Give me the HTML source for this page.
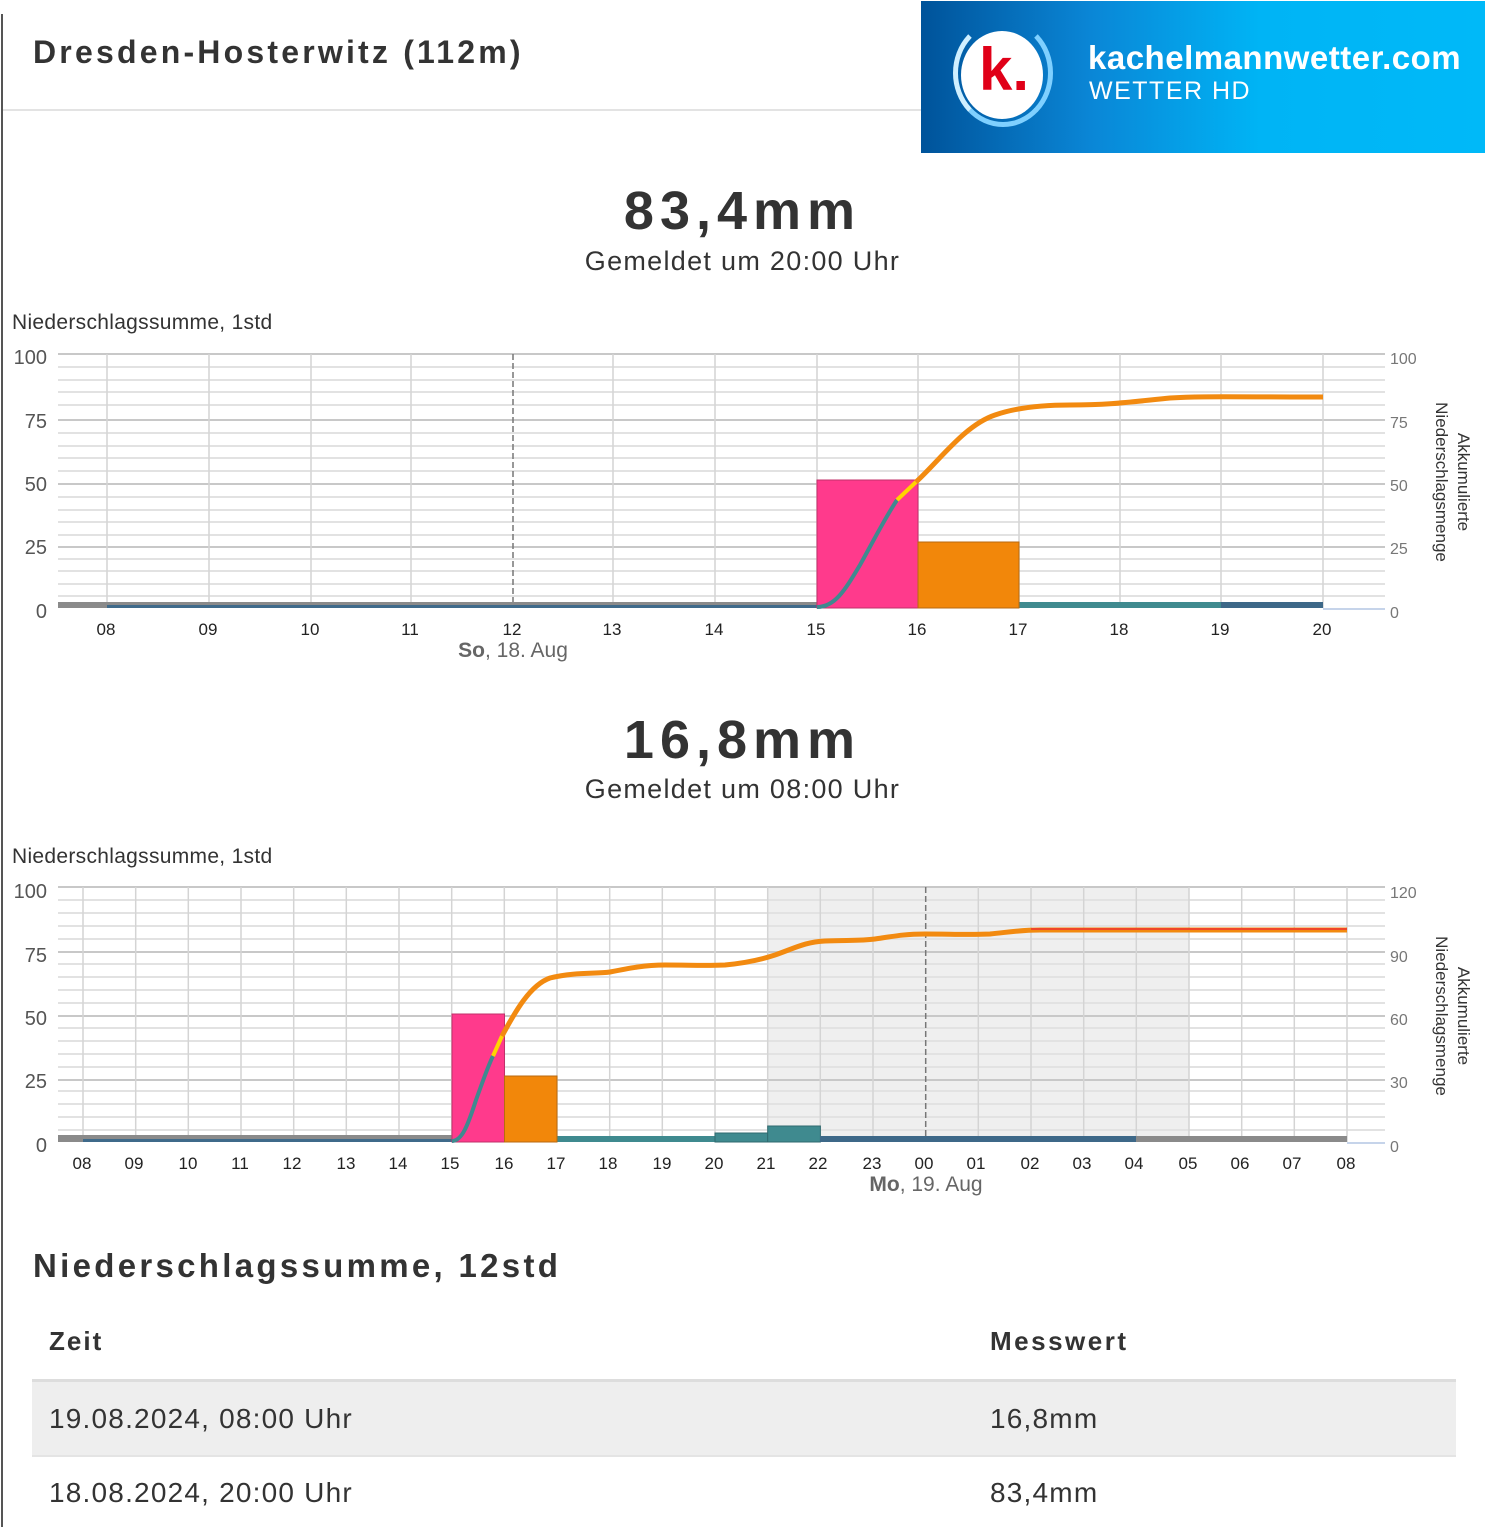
<!DOCTYPE html>
<html><head><meta charset="utf-8"><style>
body{margin:0;width:1485px;height:1527px;background:#fff;overflow:hidden;font-family:"Liberation Sans",sans-serif;position:relative}
.t{position:absolute;white-space:nowrap}
</style></head><body>
<div style="position:absolute;left:1px;top:14px;width:2px;height:1513px;background:#555"></div>
<div class="t" style="left:33px;top:34px;font-size:32px;font-weight:bold;color:#333;letter-spacing:3.2px">Dresden-Hosterwitz (112m)</div>
<div style="position:absolute;left:3px;top:109px;width:918px;height:2px;background:#e3e3e3"></div>
<div style="position:absolute;left:921px;top:1px;width:564px;height:152px;background:linear-gradient(90deg,#00539a 0%,#0a86d6 30%,#00b4f5 60%,#00b9f8 100%)">
<div style="position:absolute;left:32px;top:18px;width:100px;height:108px;border-radius:50%;border:5px solid #7fd0ff;border-left-color:#cfefff;border-top-color:transparent;box-sizing:border-box"></div>
<div style="position:absolute;left:40px;top:30px;width:82px;height:88px;border-radius:50%;background:#fff"></div>
<div class="t" style="left:58px;top:34px;font-size:60px;font-weight:bold;color:#e00018">k.</div>
<div class="t" style="left:167px;top:38px;font-size:33px;font-weight:bold;color:#fff;letter-spacing:0.5px">kachelmannwetter.com</div>
<div class="t" style="left:168px;top:76px;font-size:25px;color:#fff;letter-spacing:1.5px">WETTER HD</div>
</div>

<div class="t" style="left:0;width:1485px;text-align:center;top:180px;font-size:54px;font-weight:bold;color:#333;letter-spacing:6px">83,4mm</div>
<div class="t" style="left:0;width:1485px;text-align:center;top:246px;font-size:27px;color:#333;letter-spacing:1.3px">Gemeldet um 20:00 Uhr</div>
<div class="t" style="left:12px;top:311px;font-size:21px;color:#333;letter-spacing:0.3px">Niederschlagssumme, 1std</div>

<div class="t" style="left:0;width:1485px;text-align:center;top:709px;font-size:54px;font-weight:bold;color:#333;letter-spacing:6px">16,8mm</div>
<div class="t" style="left:0;width:1485px;text-align:center;top:774px;font-size:27px;color:#333;letter-spacing:1.3px">Gemeldet um 08:00 Uhr</div>
<div class="t" style="left:12px;top:845px;font-size:21px;color:#333;letter-spacing:0.3px">Niederschlagssumme, 1std</div>

<svg style="position:absolute;left:0;top:0" width="1485" height="1230" font-family="Liberation Sans, sans-serif">
<g>
<g stroke="#e2e2e2" stroke-width="2">
<line x1="58" x2="1385" y1="367" y2="367"/><line x1="58" x2="1385" y1="380" y2="380"/><line x1="58" x2="1385" y1="392" y2="392"/><line x1="58" x2="1385" y1="405" y2="405"/>
<line x1="58" x2="1385" y1="433" y2="433"/><line x1="58" x2="1385" y1="446" y2="446"/><line x1="58" x2="1385" y1="458" y2="458"/><line x1="58" x2="1385" y1="471" y2="471"/>
<line x1="58" x2="1385" y1="497" y2="497"/><line x1="58" x2="1385" y1="510" y2="510"/><line x1="58" x2="1385" y1="522" y2="522"/><line x1="58" x2="1385" y1="535" y2="535"/>
<line x1="58" x2="1385" y1="559" y2="559"/><line x1="58" x2="1385" y1="571" y2="571"/><line x1="58" x2="1385" y1="584" y2="584"/><line x1="58" x2="1385" y1="596" y2="596"/>
</g>
<g stroke="#c8c8c8" stroke-width="2">
<line x1="58" x2="1385" y1="354" y2="354"/><line x1="58" x2="1385" y1="420" y2="420"/><line x1="58" x2="1385" y1="484" y2="484"/><line x1="58" x2="1385" y1="547" y2="547"/>
</g>
<g stroke="#d4d4d4" stroke-width="1.5">
<line x1="107" x2="107" y1="354" y2="608"/><line x1="209" x2="209" y1="354" y2="608"/><line x1="311" x2="311" y1="354" y2="608"/><line x1="411" x2="411" y1="354" y2="608"/><line x1="613" x2="613" y1="354" y2="608"/><line x1="715" x2="715" y1="354" y2="608"/><line x1="817" x2="817" y1="354" y2="608"/><line x1="918" x2="918" y1="354" y2="608"/><line x1="1019" x2="1019" y1="354" y2="608"/><line x1="1120" x2="1120" y1="354" y2="608"/><line x1="1221" x2="1221" y1="354" y2="608"/><line x1="1323" x2="1323" y1="354" y2="608"/>
</g>
<line x1="513" x2="513" y1="354" y2="608" stroke="#777" stroke-width="1.5" stroke-dasharray="6,3"/>
<rect x="58" y="602" width="759" height="6" fill="#8a8a8a"/>
<rect x="107" y="605" width="710" height="3" fill="#3f6a8a"/>
<rect x="1019" y="602" width="202" height="6" fill="#3f8a8f"/>
<rect x="1221" y="602" width="102" height="6" fill="#3d6888"/>
<line x1="1323" x2="1385" y1="609" y2="609" stroke="#c6d4ea" stroke-width="2"/>
<rect x="817" y="480" width="101" height="128" fill="#ff3a8c" stroke="#c0306a"/>
<rect x="918" y="542" width="101" height="66" fill="#f2870a" stroke="#b86a10"/>
<path d="M817,607 C835,607 845,590 860,565 C875,538 885,518 897,500" fill="none" stroke="#3f8a8f" stroke-width="4"/>
<path d="M897,500 L916,482" fill="none" stroke="#ffd400" stroke-width="4"/>
<path d="M916,482 C940,460 965,425 995,415 C1015,408 1040,405 1070,405 C1110,405 1130,402 1170,398 C1200,396 1230,397 1323,397" fill="none" stroke="#f28a10" stroke-width="5"/>
<g font-size="20" fill="#555" text-anchor="end">
<text x="47" y="364">100</text><text x="47" y="428">75</text><text x="47" y="491">50</text><text x="47" y="554">25</text><text x="47" y="618">0</text></g>
<g font-size="16" fill="#777"><text x="1390" y="364">100</text><text x="1390" y="428">75</text><text x="1390" y="491">50</text><text x="1390" y="554">25</text><text x="1390" y="618">0</text></g>
<g font-size="17" fill="#222" text-anchor="middle">
<text x="106" y="635">08</text><text x="208" y="635">09</text><text x="310" y="635">10</text><text x="410" y="635">11</text><text x="512" y="635">12</text><text x="612" y="635">13</text><text x="714" y="635">14</text><text x="816" y="635">15</text><text x="917" y="635">16</text><text x="1018" y="635">17</text><text x="1119" y="635">18</text><text x="1220" y="635">19</text><text x="1322" y="635">20</text></g>
<text x="513" y="657" font-size="21" fill="#666" text-anchor="middle"><tspan font-weight="bold">So</tspan>, 18. Aug</text>
<text transform="translate(1458,482) rotate(90)" font-size="17" fill="#333" text-anchor="middle">Akkumulierte</text>
<text transform="translate(1436,482) rotate(90)" font-size="17" fill="#333" text-anchor="middle">Niederschlagsmenge</text>
</g>
<g>
<rect x="767" y="887" width="422" height="255" fill="#efefef"/>
<g stroke="#e2e2e2" stroke-width="2">
<line x1="58" x2="1385" y1="900" y2="900"/><line x1="58" x2="1385" y1="913" y2="913"/><line x1="58" x2="1385" y1="926" y2="926"/><line x1="58" x2="1385" y1="939" y2="939"/>
<line x1="58" x2="1385" y1="964" y2="964"/><line x1="58" x2="1385" y1="977" y2="977"/><line x1="58" x2="1385" y1="990" y2="990"/><line x1="58" x2="1385" y1="1003" y2="1003"/>
<line x1="58" x2="1385" y1="1028" y2="1028"/><line x1="58" x2="1385" y1="1041" y2="1041"/><line x1="58" x2="1385" y1="1054" y2="1054"/><line x1="58" x2="1385" y1="1067" y2="1067"/>
<line x1="58" x2="1385" y1="1091" y2="1091"/><line x1="58" x2="1385" y1="1104" y2="1104"/><line x1="58" x2="1385" y1="1117" y2="1117"/><line x1="58" x2="1385" y1="1130" y2="1130"/>
</g>
<g stroke="#c8c8c8" stroke-width="2">
<line x1="58" x2="1385" y1="887" y2="887"/><line x1="58" x2="1385" y1="952" y2="952"/><line x1="58" x2="1385" y1="1016" y2="1016"/><line x1="58" x2="1385" y1="1080" y2="1080"/>
</g>
<g stroke="#d4d4d4" stroke-width="1.5">
<line x1="83" x2="83" y1="887" y2="1142"/><line x1="135.7" x2="135.7" y1="887" y2="1142"/><line x1="188.3" x2="188.3" y1="887" y2="1142"/><line x1="241" x2="241" y1="887" y2="1142"/><line x1="293.7" x2="293.7" y1="887" y2="1142"/><line x1="346.3" x2="346.3" y1="887" y2="1142"/><line x1="399" x2="399" y1="887" y2="1142"/><line x1="451.7" x2="451.7" y1="887" y2="1142"/><line x1="504.3" x2="504.3" y1="887" y2="1142"/><line x1="557" x2="557" y1="887" y2="1142"/><line x1="609.7" x2="609.7" y1="887" y2="1142"/><line x1="662.3" x2="662.3" y1="887" y2="1142"/><line x1="715" x2="715" y1="887" y2="1142"/><line x1="767.7" x2="767.7" y1="887" y2="1142"/><line x1="820.3" x2="820.3" y1="887" y2="1142"/><line x1="873" x2="873" y1="887" y2="1142"/><line x1="978.3" x2="978.3" y1="887" y2="1142"/><line x1="1031" x2="1031" y1="887" y2="1142"/><line x1="1083.7" x2="1083.7" y1="887" y2="1142"/><line x1="1136.3" x2="1136.3" y1="887" y2="1142"/><line x1="1189" x2="1189" y1="887" y2="1142"/><line x1="1241.7" x2="1241.7" y1="887" y2="1142"/><line x1="1294.3" x2="1294.3" y1="887" y2="1142"/><line x1="1347" x2="1347" y1="887" y2="1142"/>
</g>
<line x1="925.7" x2="925.7" y1="887" y2="1142" stroke="#777" stroke-width="1.5" stroke-dasharray="6,3"/>
<rect x="58" y="1135" width="394" height="7" fill="#8a8a8a"/>
<rect x="83" y="1139" width="369" height="3" fill="#3f6a8a"/>
<rect x="557" y="1136" width="158" height="6" fill="#3f8a8f"/>
<rect x="715" y="1133" width="52.7" height="9" fill="#3f8a8f" stroke="#2f6a6f"/>
<rect x="767.7" y="1126" width="52.7" height="16" fill="#3f8a8f" stroke="#2f6a6f"/>
<rect x="820" y="1136" width="316" height="6" fill="#3d6888"/>
<rect x="1136" y="1136" width="211" height="6" fill="#8a8a8a"/>
<line x1="1347" x2="1385" y1="1143" y2="1143" stroke="#c6d4ea" stroke-width="2"/>
<rect x="452" y="1014" width="52.5" height="128" fill="#ff3a8c" stroke="#c0306a"/>
<rect x="504.5" y="1076" width="52.5" height="66" fill="#f2870a" stroke="#b86a10"/>
<path d="M452,1141 C462,1141 468,1125 476,1100 C484,1078 488,1066 493,1056" fill="none" stroke="#3f8a8f" stroke-width="4"/>
<path d="M493,1056 L502,1036" fill="none" stroke="#ffd400" stroke-width="4"/>
<path d="M502,1036 C515,1012 530,985 550,978 C575,972 595,974 610,972 C630,968 645,965 665,965 C690,965 705,966 725,965 C745,963 760,960 775,955 C795,948 805,942 825,941 C845,940 860,941 875,939 C895,936 905,934 925,934 C950,934 970,935 990,934 C1010,932 1020,930 1040,930 L1347,930" fill="none" stroke="#f28a10" stroke-width="5"/>
<path d="M1031,929 L1347,929" stroke="#f03030" stroke-width="1.5"/>
<g font-size="20" fill="#555" text-anchor="end">
<text x="47" y="898">100</text><text x="47" y="962">75</text><text x="47" y="1025">50</text><text x="47" y="1088">25</text><text x="47" y="1152">0</text></g>
<g font-size="16" fill="#777"><text x="1390" y="898">120</text><text x="1390" y="962">90</text><text x="1390" y="1025">60</text><text x="1390" y="1088">30</text><text x="1390" y="1152">0</text></g>
<g font-size="17" fill="#222" text-anchor="middle">
<text x="82" y="1169">08</text><text x="134" y="1169">09</text><text x="188" y="1169">10</text><text x="240" y="1169">11</text><text x="292" y="1169">12</text><text x="346" y="1169">13</text><text x="398" y="1169">14</text><text x="450" y="1169">15</text><text x="504" y="1169">16</text><text x="556" y="1169">17</text><text x="608" y="1169">18</text><text x="662" y="1169">19</text><text x="714" y="1169">20</text><text x="766" y="1169">21</text><text x="818" y="1169">22</text><text x="872" y="1169">23</text><text x="924" y="1169">00</text><text x="976" y="1169">01</text><text x="1030" y="1169">02</text><text x="1082" y="1169">03</text><text x="1134" y="1169">04</text><text x="1188" y="1169">05</text><text x="1240" y="1169">06</text><text x="1292" y="1169">07</text><text x="1346" y="1169">08</text></g>
<text x="926" y="1191" font-size="21" fill="#666" text-anchor="middle"><tspan font-weight="bold">Mo</tspan>, 19. Aug</text>
<text transform="translate(1458,1016) rotate(90)" font-size="17" fill="#333" text-anchor="middle">Akkumulierte</text>
<text transform="translate(1436,1016) rotate(90)" font-size="17" fill="#333" text-anchor="middle">Niederschlagsmenge</text>
</g>
</svg>

<div class="t" style="left:33px;top:1247px;font-size:33px;font-weight:bold;color:#333;letter-spacing:3.3px">Niederschlagssumme, 12std</div>
<div class="t" style="left:49px;top:1326px;font-size:26px;font-weight:bold;color:#333;letter-spacing:2px">Zeit</div>
<div class="t" style="left:990px;top:1326px;font-size:26px;font-weight:bold;color:#333;letter-spacing:2.5px">Messwert</div>
<div style="position:absolute;left:32px;top:1379px;width:1424px;height:3px;background:#ddd"></div>
<div style="position:absolute;left:32px;top:1382px;width:1424px;height:73px;background:#eeeeee"></div>
<div style="position:absolute;left:32px;top:1455px;width:1424px;height:2px;background:#e4e4e4"></div>
<div class="t" style="left:49px;top:1403px;font-size:28px;color:#333;letter-spacing:1.2px">19.08.2024, 08:00 Uhr</div>
<div class="t" style="left:990px;top:1403px;font-size:28px;color:#333;letter-spacing:1.2px">16,8mm</div>
<div class="t" style="left:49px;top:1477px;font-size:28px;color:#333;letter-spacing:1.2px">18.08.2024, 20:00 Uhr</div>
<div class="t" style="left:990px;top:1477px;font-size:28px;color:#333;letter-spacing:1.2px">83,4mm</div>
</body></html>
